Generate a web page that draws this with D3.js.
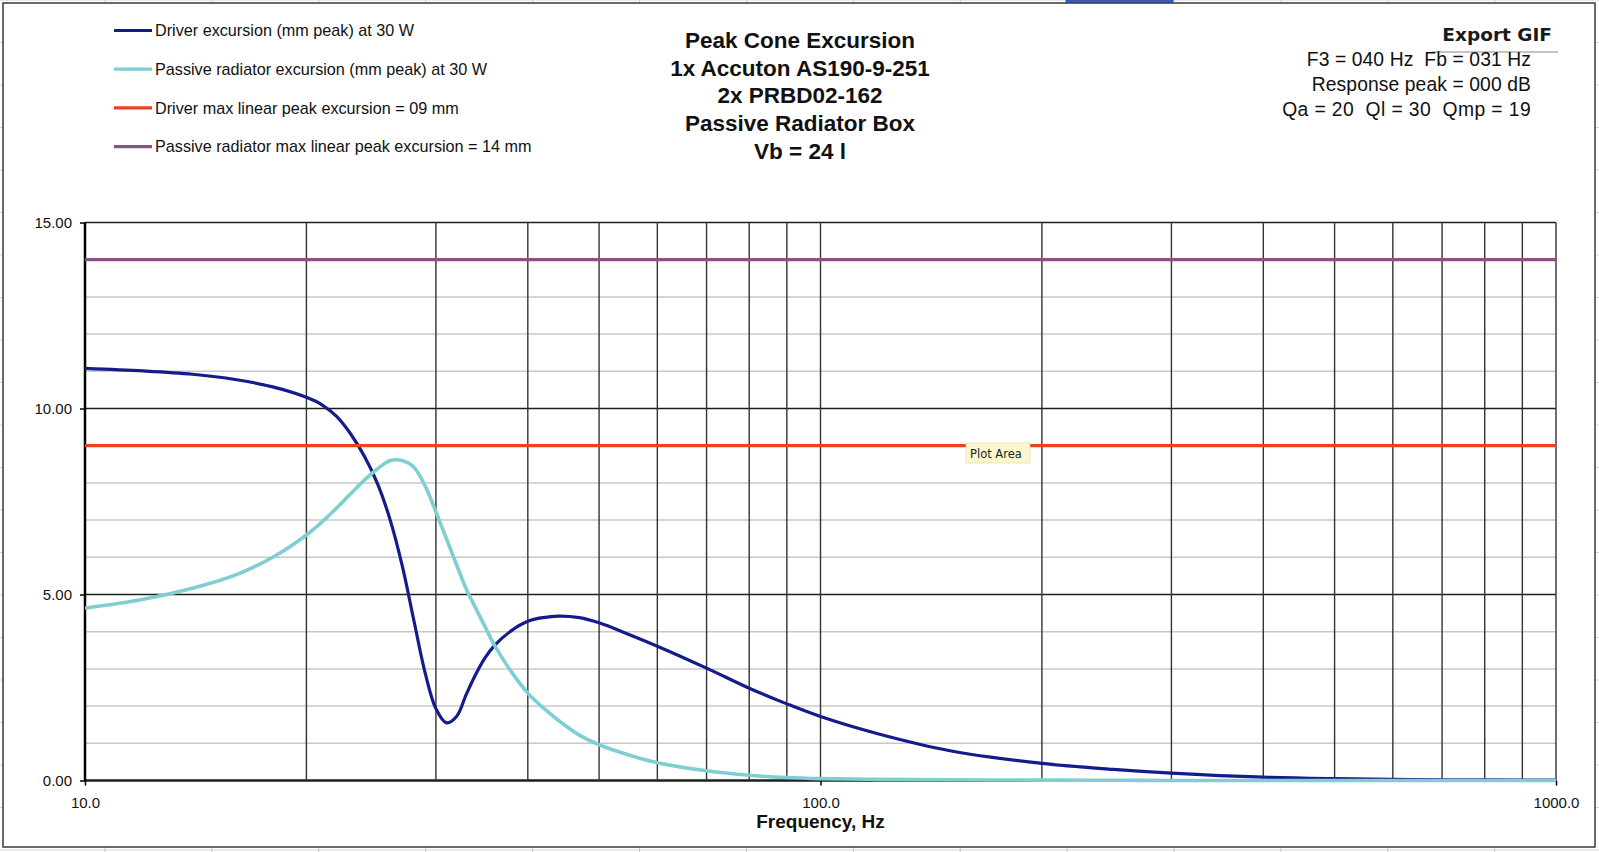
<!DOCTYPE html>
<html>
<head>
<meta charset="utf-8">
<script src="https://cdnjs.cloudflare.com/ajax/libs/d3/7.8.5/d3.min.js"></script>
<style>
  body { margin: 0; background: #fff; }
  svg { display: block; }
</style>
</head>
<body>
<svg></svg>
<script>
// frequencies (Hz) and excursions (mm peak)
var freqs = [10, 12, 14, 16, 18, 20, 21, 22, 23, 24, 25, 26, 27, 28, 29, 30, 31, 32, 33, 34, 35, 36, 38, 40,
             42, 44, 47, 50, 55, 60, 70, 80, 90, 100, 120, 150, 200, 250, 300, 400, 500, 700, 1000];
var driverMm = [11.08, 11.01, 10.92, 10.78, 10.58, 10.3, 10.1, 9.78, 9.3, 8.7, 7.97, 7.0, 5.77, 4.3, 2.9, 1.93,
                1.55, 1.72, 2.32, 2.86, 3.3, 3.62, 4.03, 4.28, 4.38, 4.42, 4.38, 4.24, 3.92, 3.61, 3.02, 2.48,
                2.06, 1.72, 1.25, 0.8, 0.46, 0.3, 0.2, 0.09, 0.05, 0.02, 0.01];
var passiveMm = [4.63, 4.87, 5.17, 5.52, 6.0, 6.6, 6.95, 7.33, 7.72, 8.08, 8.38, 8.6, 8.6, 8.42, 7.92, 7.22,
                 6.5, 5.8, 5.14, 4.62, 4.13, 3.65, 2.92, 2.35, 1.95, 1.62, 1.22, 0.96, 0.68, 0.48, 0.26, 0.14,
                 0.08, 0.05, 0.03, 0.02, 0.01, 0.005, 0.002, 0, 0, 0, 0];
var driverXmax = 9;
var passiveXmax = 14;

var legendLabels = ["Driver excursion (mm peak) at 30 W",
                    "Passive radiator excursion (mm peak) at 30 W",
                    "Driver max linear peak excursion = 09 mm",
                    "Passive radiator max linear peak excursion = 14 mm"];
var titleLines = ["Peak Cone Excursion", "1x Accuton AS190-9-251", "2x PRBD02-162",
                  "Passive Radiator Box", "Vb = 24 l"];
var infoTitle = "Export GIF";
var infoLines = ["F3 = 040 Hz  Fb = 031 Hz", "Response peak = 000 dB", "Qa = 20  Ql = 30  Qmp = 19"];

var yMajor = [0, 5, 10, 15];
var yMinor = [1, 2, 3, 4, 6, 7, 8, 9, 11, 12, 13, 14];
var xGrid = [20, 30, 40, 50, 60, 70, 80, 90, 100, 200, 300, 400, 500, 600, 700, 800, 900, 1000];
var xTicks = [10, 100, 1000];
var xLabel = "Frequency, Hz";

var colors = ["#141c8a", "#7fcfd2", "#ec4220", "#8d4f84"];

var W = 1599, H = 852;
var plot = {left: 85, right: 1556, top: 222.5, bottom: 780.5};

var x = d3.scaleLog().domain([10, 1000]).range([plot.left, plot.right]);
var y = d3.scaleLinear().domain([0, 15]).range([plot.bottom, plot.top]);

var svg = d3.select("svg").attr("width", W).attr("height", H);

// spreadsheet cells peeking out behind the chart object
var bg = svg.append("g");
d3.range(0, 16).forEach(function(k) {
  bg.append("line").attr("x1", 105 + 106.9 * k).attr("x2", 105 + 106.9 * k)
    .attr("y1", 0).attr("y2", H).attr("stroke", "#c9c9c9");
});
d3.range(0, 21).forEach(function(k) {
  bg.append("line").attr("x1", 0).attr("x2", W)
    .attr("y1", 42.5 * k).attr("y2", 42.5 * k).attr("stroke", "#d4d4d4");
});
bg.append("rect").attr("x", 1066).attr("y", 0).attr("width", 107).attr("height", 3)
  .attr("fill", "#3b62d6").attr("stroke", "#2440a8").attr("stroke-width", 0.8);

// chart frame
svg.append("rect")
  .attr("x", 3).attr("y", 3).attr("width", 1592).attr("height", 844)
  .attr("fill", "#fff").attr("stroke", "#3a3a3a").attr("stroke-width", 1.5);

// grid
var grid = svg.append("g");
grid.selectAll(".minor").data(yMinor).enter().append("line")
  .attr("x1", plot.left).attr("x2", plot.right)
  .attr("y1", d => y(d)).attr("y2", d => y(d))
  .attr("stroke", "#c8c8c8").attr("stroke-width", 1.5);
grid.selectAll(".major").data(yMajor).enter().append("line")
  .attr("x1", plot.left).attr("x2", plot.right)
  .attr("y1", d => y(d)).attr("y2", d => y(d))
  .attr("stroke", "#1e1e1e").attr("stroke-width", d => d == 0 ? 2.5 : 1.6);
grid.selectAll(".vert").data(xGrid).enter().append("line")
  .attr("x1", d => x(d)).attr("x2", d => x(d))
  .attr("y1", plot.top).attr("y2", plot.bottom)
  .attr("stroke", "#333").attr("stroke-width", 1.4);
grid.append("line")
  .attr("x1", plot.left).attr("x2", plot.left)
  .attr("y1", plot.top).attr("y2", plot.bottom + 1)
  .attr("stroke", "#000").attr("stroke-width", 2.5);

// axes
var yAxis = svg.append("g")
  .attr("transform", "translate(" + plot.left + ",0)")
  .call(d3.axisLeft(y).tickValues(yMajor).tickSize(5).tickPadding(8).tickFormat(d3.format(".2f")));
var xAxis = svg.append("g")
  .attr("transform", "translate(0," + plot.bottom + ")")
  .call(d3.axisBottom(x).tickValues(xTicks).tickSize(5).tickPadding(12).tickFormat(d3.format(".1f")));
[yAxis, xAxis].forEach(function(a) {
  a.select(".domain").remove();
  a.selectAll("line").attr("stroke", "#000").attr("stroke-width", 1.5);
  a.selectAll("text").attr("font-family", "Liberation Sans, Arial, sans-serif")
    .attr("font-size", 15).attr("fill", "#111");
});

svg.append("text")
  .attr("x", (plot.left + plot.right) / 2).attr("y", 828)
  .attr("text-anchor", "middle")
  .attr("font-family", "Liberation Sans, Arial, sans-serif")
  .attr("font-weight", "bold").attr("font-size", 19).attr("fill", "#111")
  .text(xLabel);

// series
var line = d3.line()
  .x(d => x(d[0]))
  .y(d => y(d[1]))
  .curve(d3.curveCatmullRom.alpha(0.5));

var series = [
  freqs.map((f, i) => [f, driverMm[i]]),
  freqs.map((f, i) => [f, passiveMm[i]]),
  [[10, driverXmax], [1000, driverXmax]],
  [[10, passiveXmax], [1000, passiveXmax]]
];

svg.selectAll(".series").data(series).enter().append("path")
  .attr("d", line)
  .attr("fill", "none")
  .attr("stroke", (d, i) => colors[i])
  .attr("stroke-width", (d, i) => i == 1 ? 3.6 : 3.2)
  .attr("stroke-linejoin", "round");

// legend
var legend = svg.append("g");
legendLabels.forEach(function(t, i) {
  var ly = 30.5 + 38.7 * i;
  legend.append("line")
    .attr("x1", 114).attr("x2", 152).attr("y1", ly).attr("y2", ly)
    .attr("stroke", colors[i]).attr("stroke-width", 3.2);
  legend.append("text")
    .attr("x", 155).attr("y", ly + 5.6)
    .attr("font-family", "Liberation Sans, Arial, sans-serif")
    .attr("font-size", 16.2).attr("fill", "#111")
    .text(t);
});

// title
svg.append("g").selectAll("text").data(titleLines).enter().append("text")
  .attr("x", 800).attr("y", (d, i) => 48 + 27.7 * i)
  .attr("text-anchor", "middle")
  .attr("font-family", "Liberation Sans, Arial, sans-serif")
  .attr("font-weight", "bold").attr("font-size", 22.5).attr("fill", "#111")
  .text(d => d);

// parameters box, top right
svg.append("text")
  .attr("x", 1552).attr("y", 41).attr("text-anchor", "end")
  .attr("font-family", "DejaVu Sans, sans-serif")
  .attr("font-weight", "bold").attr("font-size", 18.5).attr("fill", "#1a1a1a")
  .text(infoTitle);
svg.append("line")
  .attr("x1", 1432).attr("x2", 1558).attr("y1", 52).attr("y2", 52)
  .attr("stroke", "#c4c4c4").attr("stroke-width", 2);
svg.append("g").selectAll("text").data(infoLines).enter().append("text")
  .attr("x", 1531).attr("y", (d, i) => 66 + 25 * i)
  .attr("text-anchor", "end")
  .style("white-space", "pre")
  .attr("font-family", "Liberation Sans, Arial, sans-serif")
  .attr("font-size", 19.3).attr("letter-spacing", (d, i) => i == 2 ? 0.4 : 0.1)
  .attr("fill", "#111")
  .text(d => d);

// hover tooltip left in the screenshot
var tip = svg.append("g").attr("transform", "translate(966,443)");
tip.append("rect").attr("width", 64).attr("height", 20)
  .attr("fill", "#fcf7cf").attr("stroke", "#ddd5a8").attr("stroke-width", 0.6);
tip.append("text").attr("x", 4).attr("y", 14.5)
  .attr("font-family", "DejaVu Sans, sans-serif")
  .attr("font-size", 11.5).attr("fill", "#222")
  .text("Plot Area");
</script>
</body>
</html>
